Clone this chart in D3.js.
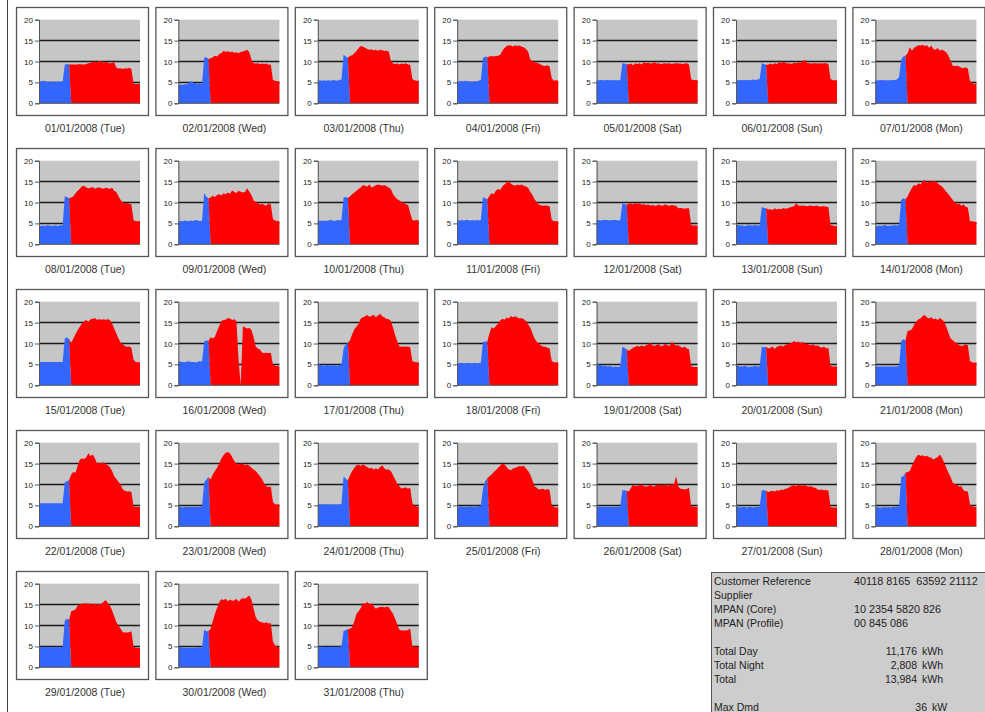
<!DOCTYPE html>
<html><head><meta charset="utf-8">
<script src="https://cdn.jsdelivr.net/npm/d3@7"></script>
<style>body{margin:0;background:#fff} svg{display:block} text{white-space:pre}</style>
</head><body><svg id="c" width="985" height="712"></svg>
<script>
// ---- DATA ----
const dateLabels = [
"01/01/2008 (Tue)","02/01/2008 (Wed)","03/01/2008 (Thu)","04/01/2008 (Fri)","05/01/2008 (Sat)","06/01/2008 (Sun)","07/01/2008 (Mon)",
"08/01/2008 (Tue)","09/01/2008 (Wed)","10/01/2008 (Thu)","11/01/2008 (Fri)","12/01/2008 (Sat)","13/01/2008 (Sun)","14/01/2008 (Mon)",
"15/01/2008 (Tue)","16/01/2008 (Wed)","17/01/2008 (Thu)","18/01/2008 (Fri)","19/01/2008 (Sat)","20/01/2008 (Sun)","21/01/2008 (Mon)",
"22/01/2008 (Tue)","23/01/2008 (Wed)","24/01/2008 (Thu)","25/01/2008 (Fri)","26/01/2008 (Sat)","27/01/2008 (Sun)","28/01/2008 (Mon)",
"29/01/2008 (Tue)","30/01/2008 (Wed)","31/01/2008 (Thu)"];
const yTicks = [0, 5, 10, 15, 20];
const gridValues = [5, 10, 15];

// Night (blue) half-hours 00:00-07:00 : 15 values per day
const nightLoad = [
[5.3,5.2,5.4,5.3,5.1,5.2,5.0,5.2,5.1,5.2,5.1,5.3,9.2,9.4,9.3],
[4.4,4.5,4.4,4.6,4.5,5.0,5.3,4.9,4.8,4.7,4.8,4.7,10.9,11.0,10.6],
[5.4,5.5,5.4,5.5,5.4,5.5,5.4,5.5,5.5,5.4,5.6,5.7,11.6,11.2,10.9],
[5.3,5.2,5.3,5.2,5.4,5.3,5.2,5.1,5.3,5.2,5.4,5.6,10.8,11.2,11.0],
[5.5,5.5,5.6,5.5,5.5,5.6,5.5,5.5,5.6,5.5,5.5,5.5,9.6,9.5,9.4],
[5.5,5.5,5.6,5.5,5.6,5.5,5.6,5.6,5.7,5.6,5.7,5.8,9.6,9.4,9.2],
[5.5,5.5,5.5,5.6,5.5,5.5,5.5,5.5,5.6,5.6,5.7,6.3,10.5,11.2,11.4],
[4.5,4.4,4.5,4.4,4.6,4.5,4.4,4.5,4.5,4.4,4.6,4.5,11.5,11.3,11.0],
[5.5,5.6,5.5,5.7,5.6,5.6,5.7,5.6,5.8,5.7,5.6,5.7,12.3,11.4,11.0],
[5.6,5.7,5.6,5.7,5.6,5.7,5.8,5.7,5.6,5.8,5.7,5.8,11.2,11.3,11.1],
[5.8,5.7,5.8,5.7,5.8,5.8,5.7,5.8,5.7,5.8,5.7,5.8,11.3,11.0,10.8],
[5.8,5.8,5.7,5.8,5.8,5.8,5.7,5.8,5.8,5.8,5.7,5.8,9.9,9.6,9.5],
[4.5,4.6,4.5,4.5,4.4,4.5,4.6,4.5,4.5,4.6,4.5,4.5,8.9,8.7,8.6],
[4.4,4.3,4.5,4.4,4.6,4.5,4.4,4.5,4.5,4.6,4.5,4.6,10.6,11.0,10.8],
[5.6,5.6,5.6,5.6,5.6,5.6,5.6,5.6,5.6,5.6,5.6,5.6,11.2,11.5,11.0],
[5.6,5.7,5.6,5.5,5.7,5.7,5.6,5.6,5.5,5.6,5.8,5.7,10.5,10.8,10.6],
[4.9,5.0,4.8,4.7,4.8,4.9,4.7,4.8,4.8,4.7,4.8,5.0,8.8,9.8,10.2],
[5.3,5.3,5.4,5.3,5.3,5.4,5.3,5.3,5.4,5.3,5.3,5.4,10.4,10.5,10.5],
[5.3,5.0,4.8,4.6,4.7,4.5,4.6,4.5,4.4,4.5,4.4,4.5,9.2,8.9,8.6],
[4.8,4.6,4.5,4.5,4.6,4.5,4.4,4.5,4.5,4.6,4.5,4.5,9.2,9.1,9.2],
[4.5,4.5,4.5,4.5,4.5,4.5,4.5,4.5,4.5,4.5,4.5,4.6,10.6,11.0,10.8],
[5.5,5.5,5.5,5.5,5.5,5.5,5.5,5.5,5.5,5.5,5.5,5.5,10.6,10.8,11.0],
[5.0,4.6,4.5,4.6,4.7,4.6,4.6,4.7,4.6,4.6,4.7,4.7,10.4,11.2,11.8],
[5.2,5.3,5.2,5.2,5.3,5.2,5.2,5.2,5.3,5.2,5.2,5.3,12.0,11.4,11.0],
[4.7,4.7,4.8,4.7,4.7,4.7,4.8,4.7,4.7,4.7,4.8,5.0,9.0,10.8,11.5],
[4.7,4.7,4.7,4.6,4.7,4.7,4.7,4.6,4.7,4.7,4.7,4.7,8.6,8.6,8.5],
[4.6,4.7,4.5,4.6,4.6,4.5,4.6,4.6,4.5,4.6,4.6,4.6,8.6,8.6,8.5],
[4.5,4.6,4.5,4.5,4.6,4.5,4.6,4.5,4.6,4.6,4.7,4.8,11.8,12.0,12.8],
[4.8,4.9,4.8,4.8,4.9,4.8,4.8,4.8,4.9,4.8,4.8,4.9,11.2,11.6,11.4],
[4.8,4.8,4.7,4.7,4.7,4.7,4.7,4.7,4.7,4.8,4.7,4.8,9.0,8.6,8.7],
[5.0,4.9,4.9,4.9,4.8,4.9,4.8,4.9,4.9,4.9,4.9,5.0,8.7,8.9,9.1]
];

// Day (red) half-hours 07:30-24:00 : 33 values per day
const dayLoad = [
[9.3,9.3,9.3,9.3,9.4,9.3,9.3,9.4,9.6,9.7,9.9,10.0,9.8,10.2,10.0,9.7,9.9,9.8,9.5,9.7,9.8,8.5,8.3,8.4,8.2,8.4,8.3,8.5,8.2,4.7,4.6,4.6,4.6],
[10.8,11.0,11.4,11.2,11.8,12.0,12.6,12.3,12.5,12.2,12.4,12.1,12.2,12.0,12.3,12.4,12.6,12.8,12.2,10.5,9.6,9.5,9.6,9.4,9.5,9.4,9.5,9.2,9.3,5.6,5.4,5.3,5.2],
[11.3,11.5,12.0,12.5,13.2,13.7,13.5,13.3,13.0,12.8,12.9,12.7,12.8,12.6,12.8,12.7,12.5,12.6,12.4,10.2,9.5,9.4,9.5,9.3,9.5,9.4,9.6,9.3,9.2,5.8,5.5,5.4,5.4],
[11.2,11.3,11.2,11.3,11.4,11.6,12.5,13.2,13.7,13.9,13.8,13.6,13.9,13.7,13.8,13.5,13.4,13.0,12.4,10.5,10.2,9.8,9.7,9.5,9.2,9.0,8.9,9.1,8.8,6.0,5.4,5.5,5.4],
[9.3,9.5,9.1,9.6,9.4,9.6,9.3,9.8,9.6,9.7,9.5,9.6,9.8,9.5,9.6,9.4,9.5,9.6,9.5,9.6,9.4,9.5,9.6,9.5,9.5,9.4,9.5,9.6,9.3,5.8,5.5,5.6,5.5],
[9.2,9.5,9.3,9.6,9.4,9.8,9.6,10.0,9.7,9.5,9.6,9.4,9.7,9.6,9.8,9.7,10.0,10.4,9.7,9.6,9.5,9.6,9.6,9.5,9.6,9.5,9.6,9.6,9.4,5.8,5.5,5.5,5.5],
[12.0,13.4,12.6,13.3,13.6,13.9,13.8,14.0,13.7,13.9,13.3,13.8,13.0,12.8,13.2,12.6,12.9,12.5,12.2,11.4,10.2,9.0,8.9,9.0,8.8,8.5,8.4,8.6,8.3,5.4,5.0,4.5,4.9],
[11.2,11.5,12.2,12.8,13.3,13.9,14.0,13.6,13.4,13.5,13.7,13.3,13.5,13.6,13.4,13.3,13.5,13.4,13.2,13.5,12.8,12.5,11.5,10.6,10.0,9.8,9.9,9.7,9.6,5.8,5.5,5.6,5.5],
[11.2,11.6,11.3,11.8,12.0,11.7,12.2,12.0,12.4,12.1,12.9,12.5,12.3,12.8,12.6,12.4,12.5,13.4,12.6,11.8,10.5,10.2,9.9,9.5,9.7,9.4,9.3,9.8,9.5,6.0,5.7,5.6,5.5],
[11.5,12.0,12.4,12.8,13.3,13.6,14.2,14.0,13.8,14.3,13.6,13.8,14.1,14.3,14.2,14.0,14.2,13.9,13.6,13.2,12.0,11.3,10.8,10.5,10.2,9.8,9.6,9.4,7.5,5.8,5.7,5.8,5.7],
[11.6,12.2,12.0,12.8,13.2,13.0,13.8,14.3,14.8,15.2,14.5,14.2,14.0,14.3,14.1,14.3,14.0,13.8,13.5,12.6,11.8,10.8,10.1,9.5,9.3,9.2,9.3,9.2,9.1,5.8,5.6,5.5,5.5],
[9.7,9.8,9.6,9.9,9.7,9.8,9.5,9.6,9.4,9.5,9.3,9.4,9.2,9.3,9.5,9.2,9.3,9.6,9.3,9.2,9.4,9.3,9.2,8.6,8.7,8.6,8.5,8.6,8.6,4.6,4.5,4.5,4.5],
[8.3,8.4,8.2,8.6,8.3,8.5,8.4,8.7,8.5,8.6,8.8,9.0,9.1,9.8,9.3,9.2,9.3,9.2,9.1,9.2,9.3,9.1,9.2,9.2,9.0,9.1,9.1,9.0,8.9,4.6,4.5,4.4,4.4],
[11.5,12.6,13.5,14.2,14.0,14.6,14.3,15.0,15.4,14.7,15.1,14.9,15.2,15.0,14.6,14.2,13.8,13.2,12.6,12.0,11.3,10.6,10.0,9.6,9.8,9.2,9.5,9.0,8.8,5.6,5.5,5.4,5.4],
[10.2,11.2,12.3,13.2,14.0,14.8,15.3,15.6,15.2,15.8,15.9,16.1,15.7,15.8,15.7,15.8,15.7,15.8,15.6,14.8,13.6,12.4,11.2,10.2,9.8,9.4,9.2,9.3,9.0,6.2,5.6,5.5,5.5],
[11.5,11.2,11.6,13.0,14.2,15.4,15.6,15.7,16.1,16.0,15.6,15.8,15.4,6.0,0.0,14.1,13.8,13.6,13.7,13.2,11.5,9.2,8.8,8.5,7.8,7.7,7.8,7.7,7.8,5.0,4.7,4.6,4.5],
[10.8,12.2,13.4,14.0,14.8,16.0,16.3,16.5,16.8,16.4,16.6,16.9,16.3,16.7,17.1,16.5,16.2,15.9,15.8,15.4,13.8,12.0,10.5,9.3,9.2,9.3,9.2,9.3,9.1,5.8,5.6,5.5,5.5],
[12.4,13.9,13.6,14.2,14.8,15.5,15.9,15.7,16.2,16.0,16.6,16.3,16.5,16.2,16.0,16.1,15.8,15.4,14.6,13.8,12.5,11.2,10.4,10.0,9.5,9.3,9.2,9.0,8.8,5.8,5.5,5.5,5.5],
[8.2,8.6,9.0,9.2,9.4,9.3,9.5,9.3,9.6,9.8,10.1,9.6,9.4,9.7,9.8,9.3,9.5,9.9,9.6,9.4,10.4,9.8,9.5,9.6,9.2,9.0,9.3,8.8,8.6,4.6,4.4,4.4,4.4],
[8.8,9.0,9.3,8.7,9.2,9.4,9.5,9.3,9.7,9.8,10.0,10.2,10.6,10.3,10.5,10.1,10.4,9.9,10.0,9.7,9.6,9.8,9.4,9.5,9.2,9.0,9.3,8.8,9.0,4.6,4.5,4.5,4.5],
[13.0,13.1,13.4,14.5,15.2,15.8,16.0,16.6,16.8,16.2,16.0,16.3,15.8,16.0,15.6,16.1,15.7,15.2,14.0,12.6,11.2,10.8,10.3,10.1,9.6,9.4,9.5,9.8,9.6,5.8,5.5,5.4,5.5],
[12.4,13.0,12.8,14.5,16.0,16.2,16.1,16.5,17.5,16.8,17.2,16.3,15.0,15.2,15.0,15.3,14.9,14.6,14.2,13.2,12.0,11.3,10.6,10.0,8.8,8.5,8.3,8.4,8.2,4.8,4.6,4.6,4.6],
[11.2,12.4,13.2,14.0,15.0,16.2,17.0,17.6,17.8,17.5,16.6,15.6,15.0,14.8,15.0,14.9,14.6,14.8,14.5,14.0,13.6,13.2,12.6,12.0,11.2,10.2,9.6,9.4,9.5,5.8,5.2,5.2,5.2],
[12.2,13.2,14.0,14.6,14.7,14.4,14.8,14.5,14.2,13.8,14.0,13.6,13.9,13.6,14.2,14.6,13.8,13.5,13.6,13.2,12.2,11.2,10.2,9.6,9.0,9.2,9.3,9.0,9.2,5.5,5.0,4.7,4.7],
[12.0,12.4,13.0,13.4,14.0,14.5,15.0,14.8,14.2,13.6,13.4,13.8,14.0,14.2,14.4,14.3,14.5,13.8,13.2,12.4,11.0,9.6,9.2,8.8,8.9,9.0,8.7,8.9,8.6,5.0,4.6,4.5,4.5],
[8.3,9.2,10.0,9.6,9.7,9.8,10.1,9.6,9.5,9.6,10.0,9.5,9.6,9.9,10.0,9.8,9.9,10.0,9.7,9.8,10.2,10.0,12.0,9.5,9.0,8.9,8.8,8.9,9.2,4.8,4.7,4.7,4.7],
[8.2,8.4,8.5,8.3,8.6,8.5,8.8,8.7,9.0,9.1,9.4,9.7,9.9,9.6,10.0,9.8,9.7,9.9,9.6,9.5,9.6,9.3,9.2,8.8,8.7,8.8,8.6,8.7,8.5,4.6,4.5,4.5,4.5],
[13.0,13.2,14.5,15.6,16.6,17.2,16.8,17.0,16.7,16.9,16.5,16.4,16.0,16.3,16.6,17.2,16.4,15.2,14.0,12.8,11.8,10.4,10.1,9.9,9.5,9.6,8.6,8.4,8.3,5.2,4.8,4.6,4.6],
[13.4,13.6,13.8,14.8,15.0,15.2,15.3,15.2,15.3,15.1,15.0,15.2,15.0,15.1,15.2,15.6,16.1,15.4,14.8,13.6,12.2,10.8,10.0,9.2,8.4,8.3,8.3,8.4,8.6,5.0,4.7,4.6,4.6],
[9.2,11.0,12.8,14.2,15.6,16.3,16.1,16.4,15.8,16.2,15.9,16.0,16.4,15.7,16.3,16.6,16.4,16.8,17.2,16.2,14.0,12.0,11.2,10.9,10.7,10.6,10.8,10.5,10.6,6.2,5.2,4.9,4.8],
[9.2,9.6,11.0,12.8,13.4,14.2,15.4,15.2,15.6,15.1,15.3,14.6,14.0,14.3,14.4,14.5,14.3,14.5,14.4,13.6,12.8,11.6,10.2,9.0,8.8,8.8,8.8,8.9,9.3,5.0,5.0,4.9,4.9]
];

const infoLabels = ["Customer Reference","Supplier","MPAN (Core)","MPAN (Profile)","","Total Day","Total Night","Total","","Max Dmd"];
const infoValues = ["40118 8165  63592 21112","","10 2354 5820 826","00 845 086","","11,176","2,808","13,984","","36"];
const infoUnits  = ["","","","","","kWh","kWh","kWh","","kW"];

// ---- LAYOUT ----
const W = 985, H = 712;
const COLS = 7, colStep = 139.4, rowStep = 141, originX = 16, originY = 7;
const boxW = 132, boxH = 108;
const plotL = 23, plotT = 12.7, plotW = 101, plotH = 83.6;
const BLUE = "#3366ff", RED = "#ff0000", PLOTBG = "#c6c6c6";
const font = "Liberation Sans, Arial, sans-serif";

const svg = d3.select("#c");
svg.append("rect").attr("width", W).attr("height", H).attr("fill", "#fff");
svg.append("line").attr("x1", 7.5).attr("x2", 7.5).attr("y1", 0).attr("y2", H)
   .attr("stroke", "#444").attr("stroke-width", 1);

const nSlots = 48;
const x = d3.scaleLinear().domain([0, nSlots - 1]).range([0, plotW]);
const y = d3.scaleLinear().domain([0, 20]).range([plotH, 0]);

const stack = d3.stack().keys(["night", "day"]);
const area = d3.area().x(d => x(d.data.i)).y0(d => y(d[0])).y1(d => y(d[1])).curve(d3.curveLinear);

dateLabels.forEach((lab, k) => {
  const night = nightLoad[k], day = dayLoad[k];
  if (night.length + day.length !== nSlots) console.error("bad length day " + (k+1));
  const rows = d3.range(nSlots).map(i => ({
    i,
    night: i < night.length ? night[i] : 0,
    day: i >= night.length ? day[i - night.length] : 0
  }));
  const series = stack(rows);

  const c = k % COLS, r = Math.floor(k / COLS);
  const g = svg.append("g").attr("transform", `translate(${originX + c * colStep},${originY + r * rowStep})`);

  g.append("rect").attr("x", 0.5).attr("y", 0.5).attr("width", boxW).attr("height", boxH)
    .attr("fill", "#fff").attr("stroke", "#555").attr("stroke-width", 1.3);

  const p = g.append("g").attr("transform", `translate(${plotL},${plotT})`);
  p.append("rect").attr("width", plotW).attr("height", plotH).attr("fill", PLOTBG);
  p.selectAll("line.grid").data(gridValues).join("line").attr("class", "grid")
    .attr("x1", 0).attr("x2", plotW).attr("y1", d => y(d)).attr("y2", d => y(d))
    .attr("stroke", "#1a1a1a").attr("stroke-width", 1.5);

  p.selectAll("path.area").data(series).join("path").attr("class", "area")
    .attr("d", area).attr("fill", (d, j) => j === 0 ? BLUE : RED);

  const ax = p.append("g").call(d3.axisLeft(y).tickValues(yTicks).tickSize(4).tickPadding(2));
  ax.select(".domain").attr("stroke", "#555");
  ax.selectAll(".tick line").attr("stroke", "#555");
  ax.selectAll(".tick text").attr("font-family", font)
    .attr("font-size", 8).attr("fill", "#222");
  p.append("line").attr("x1", 0).attr("x2", plotW).attr("y1", plotH).attr("y2", plotH)
    .attr("stroke", "#555").attr("stroke-width", 1);

  g.append("text").attr("x", 69).attr("y", 124.5).attr("text-anchor", "middle")
    .attr("font-family", font).attr("font-size", 10.5)
    .attr("fill", "#333").text(lab);
});

// ---- INFO PANEL ----
const info = svg.append("g");
info.append("rect").attr("x", 711.5).attr("y", 572.5).attr("width", 300).attr("height", 160)
  .attr("fill", "#cdcdcd").attr("stroke", "#555").attr("stroke-width", 1);
infoLabels.forEach((t, i) => {
  const by = 584.5 + i * 14;
  if (t) info.append("text").attr("x", 714).attr("y", by).attr("font-family", font)
    .attr("font-size", 10.5).attr("fill", "#222").text(t);
  const v = infoValues[i], u = infoUnits[i];
  if (v && !u) info.append("text").attr("x", 854).attr("y", by).attr("font-family", font)
    .attr("font-size", 10.8).attr("fill", "#222").attr("xml:space", "preserve").text(v);
  if (v && u) {
    const rx = u === "kW" ? 927 : 917;
    info.append("text").attr("x", rx).attr("y", by).attr("text-anchor", "end").attr("font-family", font)
      .attr("font-size", 10.5).attr("fill", "#222").text(v);
    info.append("text").attr("x", rx + 5).attr("y", by).attr("font-family", font)
      .attr("font-size", 10.5).attr("fill", "#222").text(u);
  }
});
</script>
</body></html>
